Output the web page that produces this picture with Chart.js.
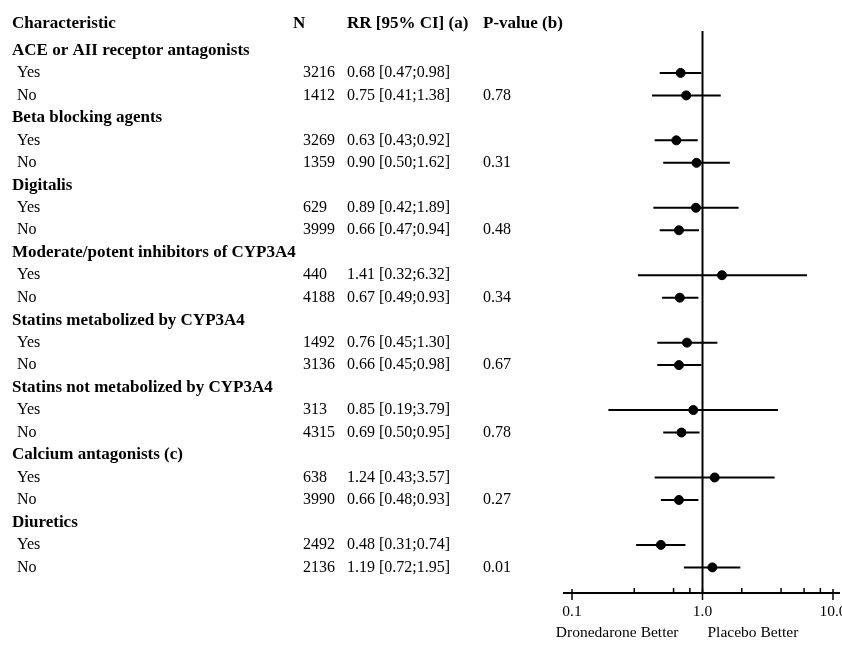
<!DOCTYPE html>
<html>
<head>
<meta charset="utf-8">
<script src="https://cdn.jsdelivr.net/npm/chart.js@4/dist/chart.umd.min.js"></script>
<style>
  body { margin: 0; background: #fff; }
  canvas { display: block; }
</style>
</head>
<body>
<canvas id="chart" width="842" height="645"></canvas>
<script>
// subgroup data
const groups = [
    'ACE or AII receptor antagonists',
    'Beta blocking agents',
    'Digitalis',
    'Moderate/potent inhibitors of CYP3A4',
    'Statins metabolized by CYP3A4',
    'Statins not metabolized by CYP3A4',
    'Calcium antagonists (c)',
    'Diuretics'
];
const levels = ['Yes', 'No'];
const nValues = [3216, 1412, 3269, 1359, 629, 3999, 440, 4188, 1492, 3136, 313, 4315, 638, 3990, 2492, 2136];
const rr = [0.68, 0.75, 0.63, 0.90, 0.89, 0.66, 1.41, 0.67, 0.76, 0.66, 0.85, 0.69, 1.24, 0.66, 0.48, 1.19];
const ciLow = [0.47, 0.41, 0.43, 0.50, 0.42, 0.47, 0.32, 0.49, 0.45, 0.45, 0.19, 0.50, 0.43, 0.48, 0.31, 0.72];
const ciHigh = [0.98, 1.38, 0.92, 1.62, 1.89, 0.94, 6.32, 0.93, 1.30, 0.98, 3.79, 0.95, 3.57, 0.93, 0.74, 1.95];
const pValues = ['0.78', '0.31', '0.48', '0.34', '0.67', '0.78', '0.27', '0.01'];
const axisTicks = [0.1, 1, 10];
const axisTickLabels = ['0.1', '1.0', '10.0'];
const headers = ['Characteristic', 'N', 'RR [95% CI] (a)', 'P-value (b)'];
const sideLabels = ['Dronedarone Better', 'Placebo Better'];

// each group takes 3 rows: title, Yes, No
const rowOf = (i) => Math.floor(i / 2) * 3 + 1 + (i % 2);

const serif = '"Liberation Serif", "Times New Roman", serif';
const COL_LABEL = 12, COL_LEVEL = 17, COL_HEAD_N = 293, COL_N = 303, COL_RR = 347, COL_P = 483;

const tablePlugin = {
    id: 'table',
    afterDraw(chart) {
        const ctx = chart.ctx;
        const x = chart.scales.x;
        const y = chart.scales.y;
        ctx.save();
        ctx.fillStyle = '#000';
        ctx.strokeStyle = '#000';
        ctx.textBaseline = 'middle';

        // column headers
        ctx.font = 'bold 17px ' + serif;
        const hy = y.getPixelForValue(-1.2);
        ctx.fillText(headers[0], COL_LABEL, hy);
        ctx.fillText(headers[1], COL_HEAD_N, hy);
        ctx.fillText(headers[2], COL_RR, hy);
        ctx.fillText(headers[3], COL_P, hy);

        groups.forEach((g, gi) => {
            ctx.font = 'bold 17px ' + serif;
            ctx.fillText(g, COL_LABEL, y.getPixelForValue(gi * 3));
        });

        ctx.font = '16px ' + serif;
        nValues.forEach((n, i) => {
            const py = y.getPixelForValue(rowOf(i));
            ctx.fillText(levels[i % 2], COL_LEVEL, py);
            ctx.fillText(String(n), COL_N, py);
            ctx.fillText(rr[i].toFixed(2) + ' [' + ciLow[i].toFixed(2) + ';' + ciHigh[i].toFixed(2) + ']', COL_RR, py);
            if (i % 2 === 1) {
                ctx.fillText(pValues[(i - 1) / 2], COL_P, py);
            }
        });

        // x axis with log ticks
        const ay = chart.chartArea.bottom;
        ctx.lineWidth = 2;
        ctx.beginPath();
        ctx.moveTo(x.getPixelForValue(0.1) - 9, ay);
        ctx.lineTo(x.getPixelForValue(10) + 7, ay);
        ctx.stroke();
        ctx.lineWidth = 1.5;
        x.ticks.forEach(t => {
            const px = x.getPixelForValue(t.value);
            const major = axisTicks.some(v => Math.abs(v - t.value) < 1e-9);
            ctx.beginPath();
            if (major) {
                ctx.moveTo(px, ay - 4);
                ctx.lineTo(px, ay + 7);
            } else {
                ctx.moveTo(px, ay - 5);
                ctx.lineTo(px, ay);
            }
            ctx.stroke();
        });

        ctx.font = '15.5px ' + serif;
        ctx.textAlign = 'center';
        axisTicks.forEach((v, i) => {
            ctx.fillText(axisTickLabels[i], x.getPixelForValue(v), ay + 19);
        });
        const one = x.getPixelForValue(1);
        ctx.textAlign = 'right';
        ctx.fillText(sideLabels[0], one - 24, ay + 40);
        ctx.textAlign = 'left';
        ctx.fillText(sideLabels[1], one + 5, ay + 40);
        ctx.restore();
    }
};

function drawChart() {
    const ctx = document.getElementById('chart');

    const ciSets = rr.map((v, i) => ({
        type: 'line',
        data: [{ x: ciLow[i], y: rowOf(i) }, { x: ciHigh[i], y: rowOf(i) }],
        borderColor: '#000',
        borderWidth: 2,
        pointRadius: 0
    }));

    new Chart(ctx, {
        type: 'scatter',
        data: {
            datasets: [
                ...ciSets,
                {
                    type: 'line',
                    data: [{ x: 1, y: -0.86 }, { x: 1, y: 24.14 }],
                    borderColor: '#000',
                    borderWidth: 2,
                    pointRadius: 0
                },
                {
                    data: rr.map((v, i) => ({ x: v, y: rowOf(i) })),
                    backgroundColor: '#000',
                    borderColor: '#000',
                    pointRadius: 4.5
                }
            ]
        },
        options: {
            responsive: false,
            animation: false,
            layout: { padding: { left: 572, right: 9, top: 2, bottom: 52 } },
            plugins: { legend: { display: false }, tooltip: { enabled: false } },
            scales: {
                x: { type: 'logarithmic', min: 0.1, max: 10, display: false },
                y: { type: 'linear', min: -2, max: 24.14, reverse: true, display: false }
            }
        },
        plugins: [tablePlugin]
    });
}

drawChart();
</script>
</body>
</html>
